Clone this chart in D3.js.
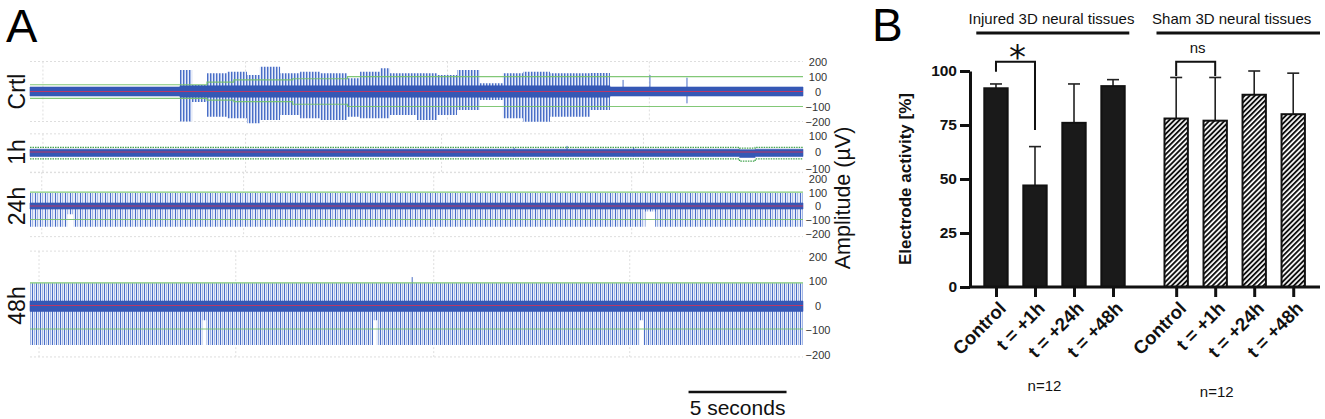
<!DOCTYPE html>
<html>
<head>
<meta charset="utf-8">
<script src="https://cdn.jsdelivr.net/npm/d3@7"></script>
<style>
    body { margin: 0; background: #fff; }
    svg { display: block; font-family: "Liberation Sans", Arial, sans-serif; }
    .grid line { stroke: #dedede; stroke-width: 1; stroke-dasharray: 2,2; }
    .amp text { font-family: "Liberation Sans", Arial, sans-serif; font-size: 11px; fill: #333; text-anchor: middle; }
    .amp path { display: none; }
    .bax text { font-family: "Liberation Sans", Arial, sans-serif; font-size: 15.5px; font-weight: bold; fill: #111; }
    .bax path, .bax line { stroke: #111; stroke-width: 3; }
</style>
</head>
<body>
<svg id="fig" width="1325" height="419"></svg>
<script>
(function() {
    'use strict';

    /******************************************************************
        panel A data: envelopes (seconds, µV)
     ******************************************************************/
    var traceSeconds = 39.44;

    var crtlTime = [0, 7.65, 8.27, 9.03, 10.05, 11.07, 11.73, 12.76, 13.78, 14.80, 16.17, 16.84,
                    17.86, 18.37, 19.74, 20.77, 21.79, 22.96, 24.13, 25.15, 26.53, 28.57, 29.59];
    var crtlMax  = [0, 143, 43, 121, 132, 110, 165, 121, 132, 121, 88, 132,
                    155, 121, 121, 110, 143, 55, 121, 132, 121, 123, 0];
    var crtlMin  = [0, -200, -70, -168, -179, -212, -190, -157, -179, -190, -168, -179,
                    -179, -157, -190, -157, -123, -57, -179, -201, -168, -123, 0];
    var crtlNoiseTime = [0, 7.65, 29.59];
    var crtlNoiseHi   = [30, 38, 30];
    var crtlNoiseLo   = [-30, -38, -30];
    var crtlThrTime = [0, 9.03, 10.4, 13.4, 16.2];
    var crtlThrHi   = [45, 63, 77, 85, 99];
    var crtlThrLo   = [-46, -58, -68, -85, -100];
    var crtlSpikeTime = [30.26, 31.63, 33.52];
    var crtlSpikeUp   = [77, 110, 92];
    var crtlSpikeDown = [-30, -30, -79];
    var crtlTicks = [200, 100, 0, -100, -200];
    var crtlGrid  = [200, -200];
    var crtlGridT = [0.66, 11.0, 21.3, 31.6];

    var h1NoiseTime = [0, 36.2, 37.0];
    var h1NoiseHi   = [17, 14, 17];
    var h1NoiseLo   = [-27, -33, -27];
    var h1ThrTime = [0, 36.2, 37.0];
    var h1ThrHi   = [28, 24, 28];
    var h1ThrLo   = [-42, -55, -42];
    var h1SpikeTime = [24.7, 27.4, 30.8];
    var h1SpikeUp   = [26, 37, 30];
    var h1SpikeDown = [-27, -27, -27];
    var h1Ticks = [100, 0, -100];
    var h1Grid  = [110, -125];
    var h1GridT = [0.66, 11.0, 21.0, 31.3];

    var h24Time = [0, 1.9, 2.2, 31.4, 31.9];
    var h24Max  = [94, 94, 94, 94, 94];
    var h24Min  = [-150, -60, -150, -40, -150];
    var h24NoiseTime = [0];
    var h24NoiseHi   = [22];
    var h24NoiseLo   = [-22];
    var h24ThrTime = [0];
    var h24ThrHi   = [100];
    var h24ThrLo   = [-98];
    var h24Ticks = [200, 100, 0, -100, -200];
    var h24Grid  = [245, -222];
    var h24GridT = [0.6, 10.9, 20.6, 30.7];

    var h48Time = [0, 8.8, 9.0, 17.5, 17.7, 31.1, 31.3];
    var h48Max  = [91, 91, 91, 91, 91, 91, 91];
    var h48Min  = [-161, -60, -161, -60, -161, -60, -161];
    var h48NoiseTime = [0];
    var h48NoiseHi   = [18];
    var h48NoiseLo   = [-24];
    var h48ThrTime = [0];
    var h48ThrHi   = [92];
    var h48ThrLo   = [-96];
    var h48SpikeTime = [19.5];
    var h48SpikeUp   = [116];
    var h48SpikeDown = [-161];
    var h48Ticks = [200, 100, 0, -100, -200];
    var h48Grid  = [222, -210];
    var h48GridT = [0.46, 10.5, 20.6, 30.6];

    /******************************************************************
        panel B data
     ******************************************************************/
    var categories = ['Control', 't = +1h', 't = +24h', 't = +48h'];
    var groups = ['Injured 3D neural tissues', 'Sham 3D neural tissues'];
    var injuredMean = [92, 47, 76, 93];
    var injuredSD   = [2, 18, 18, 3];
    var shamMean    = [78, 77, 89, 80];
    var shamSD      = [19, 20, 11, 19];
    var activityTicks = [0, 25, 50, 75, 100];
    var groupN = ['n=12', 'n=12'];


    var svg = d3.select('#fig');
    var defs = svg.append('defs');

    var rows = [
        { label: 'Crtl', y0: 91.5, k: 15, stripe: 3, ticks: crtlTicks, grid: crtlGrid, gridT: crtlGridT,
          env: [crtlTime, crtlMax, crtlMin], noise: [crtlNoiseTime, crtlNoiseHi, crtlNoiseLo],
          thr: [crtlThrTime, crtlThrHi, crtlThrLo], spikes: [crtlSpikeTime, crtlSpikeUp, crtlSpikeDown] },
        { label: '1h', y0: 152, k: 16.5, stripe: 4, ticks: h1Ticks, grid: h1Grid, gridT: h1GridT,
          env: null, noise: [h1NoiseTime, h1NoiseHi, h1NoiseLo],
          thr: [h1ThrTime, h1ThrHi, h1ThrLo], spikes: [h1SpikeTime, h1SpikeUp, h1SpikeDown], dotted: true },
        { label: '24h', y0: 206, k: 13.8, stripe: 5, ticks: h24Ticks, grid: h24Grid, gridT: h24GridT,
          env: [h24Time, h24Max, h24Min], noise: [h24NoiseTime, h24NoiseHi, h24NoiseLo],
          thr: [h24ThrTime, h24ThrHi, h24ThrLo], spikes: null },
        { label: '48h', y0: 305.5, k: 24.5, stripe: 4, ticks: h48Ticks, grid: h48Grid, gridT: h48GridT,
          env: [h48Time, h48Max, h48Min], noise: [h48NoiseTime, h48NoiseHi, h48NoiseLo],
          thr: [h48ThrTime, h48ThrHi, h48ThrLo], spikes: [h48SpikeTime, h48SpikeUp, h48SpikeDown] }
    ];

    var tA = d3.scaleLinear().domain([0, traceSeconds]).range([30, 803]);

    function band(arr) {
        var pts = arr[0].map(function(t, i) { return { t: t, hi: arr[1][i], lo: arr[2][i] }; });
        var last = pts[pts.length - 1];
        pts.push({ t: traceSeconds, hi: last.hi, lo: last.lo });
        return pts;
    }

    /******************************************************************
        panel A
     ******************************************************************/
    svg.append('text').attr('x', 6).attr('y', 41.5)
        .style('font-size', '47px').text('A');

    rows.forEach(function(r, i) {
        var y = d3.scaleLinear().domain([-100, 100]).range([r.y0 + r.k, r.y0 - r.k]);
        var g = svg.append('g').attr('class', 'row');

        // grid
        var gg = g.append('g').attr('class', 'grid');
        gg.selectAll('.hg').data(r.grid).enter().append('line')
            .attr('x1', tA(0)).attr('x2', tA(traceSeconds))
            .attr('y1', function(d) { return y(d); }).attr('y2', function(d) { return y(d); });
        gg.selectAll('.vg').data(r.gridT).enter().append('line')
            .attr('x1', function(d) { return tA(d); }).attr('x2', function(d) { return tA(d); })
            .attr('y1', y(r.grid[0])).attr('y2', y(r.grid[1]));

        // spike envelope, striped like the dense spike trains
        if (r.env) {
            var p = defs.append('pattern').attr('id', 'spk' + i)
                .attr('patternUnits', 'userSpaceOnUse')
                .attr('width', r.stripe).attr('height', 10);
            p.append('rect').attr('width', r.stripe).attr('height', 10).attr('fill', '#e8edf9');
            p.append('rect').attr('x', 0).attr('width', 1).attr('height', 10).attr('fill', '#4a6ec6');
            p.append('rect').attr('x', Math.floor(r.stripe / 2)).attr('width', 1).attr('height', 10).attr('fill', '#a3b7e6');

            g.append('path')
                .datum(band(r.env))
                .attr('fill', 'url(#spk' + i + ')')
                .attr('d', d3.area().curve(d3.curveStepAfter)
                    .x(function(d) { return tA(d.t); })
                    .y0(function(d) { return y(d.lo); })
                    .y1(function(d) { return y(d.hi); }));
        }

        // isolated spikes
        if (r.spikes) {
            g.selectAll('.spike').data(r.spikes[0]).enter().append('line')
                .attr('x1', function(d) { return tA(d); }).attr('x2', function(d) { return tA(d); })
                .attr('y1', function(d, j) { return y(r.spikes[1][j]); })
                .attr('y2', function(d, j) { return y(r.spikes[2][j]); })
                .attr('stroke', '#4a6ec6').attr('stroke-width', 1);
        }

        // noise band
        g.append('path')
            .datum(band(r.noise))
            .attr('fill', '#3558b5').attr('stroke', '#3558b5').attr('stroke-width', 0.6)
            .attr('d', d3.area().curve(d3.curveStepAfter)
                .x(function(d) { return tA(d.t); })
                .y0(function(d) { return y(d.lo); })
                .y1(function(d) { return y(d.hi); }));

        // baseline
        g.append('line')
            .attr('x1', tA(0)).attr('x2', tA(traceSeconds))
            .attr('y1', y(0)).attr('y2', y(0))
            .attr('stroke', '#d2325a').attr('stroke-width', 1).attr('opacity', 0.85);

        // thresholds
        var thr = band(r.thr);
        ['hi', 'lo'].forEach(function(key) {
            g.append('path').datum(thr)
                .attr('fill', 'none')
                .attr('stroke', r.dotted ? '#2f9a3c' : '#74c268')
                .attr('stroke-width', r.dotted ? 1.3 : 1.2)
                .attr('stroke-dasharray', r.dotted ? '1.5,1' : null)
                .attr('opacity', 0.9)
                .attr('d', d3.line().curve(d3.curveStepAfter)
                    .x(function(d) { return tA(d.t); })
                    .y(function(d) { return y(d[key]); }));
        });

        // amplitude labels
        g.append('g').attr('class', 'amp')
            .attr('transform', 'translate(818,0)')
            .call(d3.axisRight(y).tickValues(r.ticks).tickSize(0).tickPadding(0))
            .selectAll('text').attr('x', 0).attr('dy', '0.35em')
            .style('fill', '#333');

        // row name
        g.append('text')
            .attr('transform', 'translate(25,' + r.y0 + ') rotate(-90)')
            .attr('text-anchor', 'middle')
            .style('font-size', '23px').style('fill', '#111')
            .text(r.label);
    });

    svg.append('text')
        .attr('transform', 'translate(850,198) rotate(-90)')
        .attr('text-anchor', 'middle')
        .style('font-size', '21.5px').style('fill', '#111')
        .text('Amplitude (µV)');

    // scale bar
    var barEnd = 38.6;
    svg.append('line')
        .attr('x1', tA(barEnd - 5)).attr('x2', tA(barEnd))
        .attr('y1', 392).attr('y2', 392)
        .attr('stroke', '#111').attr('stroke-width', 2.5);
    svg.append('text')
        .attr('x', tA(barEnd - 2.5)).attr('y', 415)
        .attr('text-anchor', 'middle')
        .style('font-size', '21px').style('fill', '#111')
        .text('5 seconds');

    /******************************************************************
        panel B
     ******************************************************************/
    svg.append('text').attr('x', 872).attr('y', 40.5)
        .style('font-size', '46px').text('B');

    var yB = d3.scaleLinear().domain([0, 100]).range([287, 71]);
    var inner = d3.scaleBand().domain(categories).range([0, 142.4])
        .paddingInner(0.35).paddingOuter(0);
    var groupX = d3.scaleOrdinal().domain(groups).range([983.3, 1163.5]);

    var bars = [];
    groups.forEach(function(gname, gi) {
        categories.forEach(function(c, ci) {
            bars.push({
                key: gname + '|' + c, group: gname, cat: c, hatch: gi === 1,
                mean: gi === 0 ? injuredMean[ci] : shamMean[ci],
                sd: gi === 0 ? injuredSD[ci] : shamSD[ci]
            });
        });
    });
    function bx(d) { return groupX(d.group) + inner(d.cat); }
    function cx(d) { return bx(d) + inner.bandwidth() / 2; }

    var xKey = d3.scaleOrdinal()
        .domain(bars.map(function(d) { return d.key; }))
        .range(bars.map(cx));

    var hatch = defs.append('pattern').attr('id', 'hatch')
        .attr('patternUnits', 'userSpaceOnUse')
        .attr('width', 3.6).attr('height', 3.6)
        .attr('patternTransform', 'rotate(45)');
    hatch.append('rect').attr('width', 3.6).attr('height', 3.6).attr('fill', '#fff');
    hatch.append('rect').attr('width', 1.9).attr('height', 3.6).attr('fill', '#111');

    // error bars (upper only)
    var eb = svg.append('g').selectAll('g').data(bars).enter().append('g');
    eb.append('line')
        .attr('x1', cx).attr('x2', cx)
        .attr('y1', function(d) { return yB(d.mean); })
        .attr('y2', function(d) { return yB(d.mean + d.sd); })
        .attr('stroke', '#222').attr('stroke-width', 1.6);
    eb.append('line')
        .attr('x1', function(d) { return cx(d) - 6; }).attr('x2', function(d) { return cx(d) + 6; })
        .attr('y1', function(d) { return yB(d.mean + d.sd); })
        .attr('y2', function(d) { return yB(d.mean + d.sd); })
        .attr('stroke', '#222').attr('stroke-width', 1.6);

    svg.append('g').selectAll('rect').data(bars).enter().append('rect')
        .attr('x', function(d) { return bx(d) + 1; })
        .attr('width', inner.bandwidth() - 2)
        .attr('y', function(d) { return yB(d.mean); })
        .attr('height', function(d) { return yB(0) - yB(d.mean); })
        .attr('fill', function(d) { return d.hatch ? 'url(#hatch)' : '#1a1a1a'; })
        .attr('stroke', '#111').attr('stroke-width', 2);

    // axes
    svg.append('g').attr('class', 'bax')
        .attr('transform', 'translate(970,0)')
        .call(d3.axisLeft(yB).tickValues(activityTicks).tickSize(10).tickSizeOuter(0).tickPadding(3));

    var xa = svg.append('g').attr('class', 'bax')
        .attr('transform', 'translate(0,' + yB(0) + ')')
        .call(d3.axisBottom(xKey).tickSize(10).tickSizeOuter(0)
            .tickFormat(function(k) { return k.split('|')[1]; }));
    xa.select('.domain').remove();
    xa.selectAll('text')
        .attr('x', 0).attr('y', 0).attr('dy', '0.35em')
        .attr('transform', 'translate(6,18) rotate(-45)')
        .style('text-anchor', 'end')
        .style('font-size', '18.5px');
    svg.append('line')
        .attr('x1', 970).attr('x2', 1320)
        .attr('y1', yB(0)).attr('y2', yB(0))
        .attr('stroke', '#111').attr('stroke-width', 3);

    svg.append('text')
        .attr('transform', 'translate(911,' + yB(50) + ') rotate(-90)')
        .attr('text-anchor', 'middle')
        .style('font-size', '17px').style('font-weight', 'bold').style('fill', '#111')
        .text('Electrode activity [%]');

    // group headers
    var hdr = svg.append('g').selectAll('g').data(groups).enter().append('g');
    hdr.append('text')
        .attr('x', function(d) { return groupX(d) + 142.4 / 2 - 3; })
        .attr('y', 23.5)
        .attr('text-anchor', 'middle')
        .style('font-size', '15px').style('fill', '#111')
        .text(function(d) { return d; });
    hdr.append('line')
        .attr('x1', function(d) { return groupX(d) - 7; })
        .attr('x2', function(d, i) { return i ? 1320 : groupX(d) + 146; })
        .attr('y1', 33).attr('y2', 33)
        .attr('stroke', '#111').attr('stroke-width', 3);

    // n labels
    svg.append('g').selectAll('text').data(groupN).enter().append('text')
        .attr('x', function(d, i) { return groupX(groups[i]) + 142.4 / 2 - (i ? 18 : 10); })
        .attr('y', function(d, i) { return i ? 397 : 391; })
        .attr('text-anchor', 'middle')
        .style('font-size', '15px').style('fill', '#111')
        .text(function(d) { return d; });

    // significance brackets
    var sig = [
        { group: groups[0], a: 'Control', b: 't = +1h', top: 104.3, endA: 99.7, endB: 72.7,
          label: '*', font: 'DejaVu Sans', size: 34, dy: -7 },
        { group: groups[1], a: 'Control', b: 't = +1h', top: 104.3, endA: 97.7, endB: 97.7,
          label: 'ns', font: 'Liberation Sans', size: 15, dy: 9 }
    ];
    sig.forEach(function(s) {
        var xa0 = xKey(s.group + '|' + s.a), xb0 = xKey(s.group + '|' + s.b);
        svg.append('path')
            .attr('d', 'M' + xa0 + ',' + yB(s.endA) + 'V' + yB(s.top) + 'H' + xb0 + 'V' + yB(s.endB))
            .attr('fill', 'none').attr('stroke', '#111').attr('stroke-width', 2);
        svg.append('text')
            .attr('x', (xa0 + xb0) / 2 + 2).attr('y', yB(s.top) - s.dy)
            .attr('text-anchor', 'middle')
            .style('font-family', s.font)
            .style('font-size', s.size + 'px').style('fill', '#111')
            .text(s.label);
    });
})();
</script>
</body>
</html>
